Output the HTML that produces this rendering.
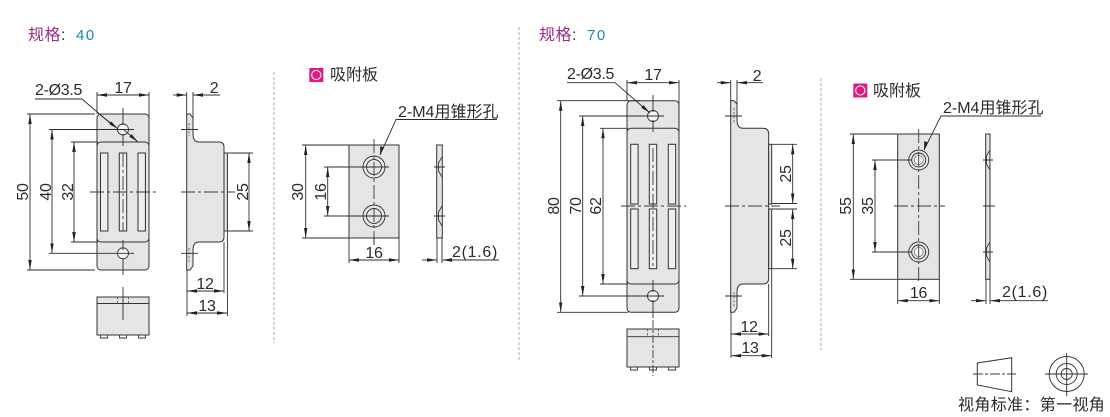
<!DOCTYPE html>
<html><head><meta charset="utf-8">
<style>
html,body{margin:0;padding:0;background:#fff;width:1110px;height:417px;overflow:hidden}
svg{display:block}
text{font-family:"Liberation Sans","Noto Sans CJK SC",sans-serif;fill:#2b2b2b;font-size:16px;letter-spacing:-.3px}
.p{fill:#e5e5e6;stroke:#333;stroke-width:1}
.n{fill:none;stroke:#333;stroke-width:.9}
.d{fill:none;stroke:#2e2e2e;stroke-width:.9}
.a{fill:none;stroke:#2e2e2e;stroke-width:.9;marker-start:url(#as);marker-end:url(#ae)}
.o{fill:none;stroke:#2e2e2e;stroke-width:.9;marker-end:url(#ae)}
.c{fill:none;stroke:#3a3a3a;stroke-width:.9;stroke-dasharray:14 3 3 3}
.h{fill:none;stroke:#444;stroke-width:.7;stroke-dasharray:2.5 1.5}
.v{fill:none;stroke:#999;stroke-width:.8;stroke-dasharray:3 2}
.m{text-anchor:middle}
</style></head>
<body>
<svg width="1110" height="417" viewBox="0 0 1110 417" xmlns="http://www.w3.org/2000/svg">
<defs>
<marker id="ae" markerUnits="userSpaceOnUse" markerWidth="12" markerHeight="6" refX="10" refY="2" orient="auto"><path d="M0 0.3L10 2L0 3.7Z" fill="#222"/></marker>
<marker id="as" markerUnits="userSpaceOnUse" markerWidth="12" markerHeight="6" refX="0" refY="2" orient="auto"><path d="M10 0.3L0 2L10 3.7Z" fill="#222"/></marker>
</defs>

<!-- titles -->
<text x="28" y="40" style="font-size:16px;fill:#9b2a86;letter-spacing:.5px">规格<tspan style="fill:#333">:</tspan><tspan x="76" style="fill:#1a86b8;letter-spacing:1.5px;font-size:15px">40</tspan></text>
<text x="539" y="40" style="font-size:16px;fill:#9b2a86;letter-spacing:.5px">规格<tspan style="fill:#333">:</tspan><tspan x="587" style="fill:#1a86b8;letter-spacing:1.5px;font-size:15px">70</tspan></text>

<!-- dividers -->
<path class="v" d="M274 72V343M519 27V362M821 78V350"/>

<!-- LEFT front -->
<rect class="p" x="97" y="114" width="52" height="156" rx="4"/>
<rect class="p" x="97" y="142" width="52" height="100" rx="4"/>
<g class="p" style="fill:#eee">
<rect x="100.5" y="153" width="7.4" height="78"/><rect x="119.3" y="153" width="7.4" height="78"/><rect x="138" y="153" width="7.4" height="78"/>
</g>
<circle cx="123" cy="129.5" r="5.5" fill="#f4f4f4" stroke="#333" stroke-width=".9"/>
<circle cx="123" cy="253.3" r="5.5" fill="#f4f4f4" stroke="#333" stroke-width=".9"/>
<path class="d" d="M123 108V125M123 134V146M123 240V250M123 258V275M107 129.5H134M107 253.3H134"/>
<path class="c" d="M123 153V231M90 192H156"/>
<!-- LEFT front dims -->
<path class="d" d="M97 92V114M149 92V142M27 114H95M49 129.5H107M71 142H98M71 242H98M49 253.3H107M27 270H95"/>
<path class="a" d="M97 95H149"/>
<path class="a" d="M30 114V270"/>
<path class="a" d="M52 129.5V253.3"/>
<path class="a" d="M74 142V242"/>
<path class="d" d="M35 99H82L110 123"/>
<path class="o" d="M98 113L118 129"/>
<path class="o" d="M123 129L138 142"/>
<text x="35" y="95">2-Ø3.5</text>
<text class="m" x="123" y="93">17</text>
<text class="m" transform="translate(28,192) rotate(-90)">50</text>
<text class="m" transform="translate(51,192) rotate(-90)">40</text>
<text class="m" transform="translate(73,192) rotate(-90)">32</text>

<!-- LEFT side -->
<path class="p" d="M186.7 114H190L193 118V134Q193 142 199 142H219Q224 142 224 147V237Q224 242 219 242H199Q193 242 193 250V266L190 270H186.7Z"/>
<rect class="p" x="224" y="153" width="3.4" height="78"/>
<path class="c" d="M181 192H235"/>
<path class="h" d="M189 123V136M189 248V262"/>
<path class="d" d="M181 129.5H198M181 253.3H198"/>
<path class="d" d="M186.7 92V114M193 92V118M228 153H253M228 231H253M224 242V293M227.4 231V316M187 270V316"/>
<path class="o" d="M173 95H186.7"/>
<path class="o" d="M220 95H193"/>
<text class="m" x="214" y="93">2</text>
<path class="a" d="M249 153V231"/>
<text class="m" transform="translate(248,192) rotate(-90)">25</text>
<path class="a" d="M187 291H224"/>
<text class="m" x="205" y="289">12</text>
<path class="a" d="M187 313H227"/>
<text class="m" x="207" y="311">13</text>

<!-- LEFT bottom -->
<rect class="p" x="97" y="297" width="52" height="38"/>
<path class="n" d="M97 303.5H149"/>
<path class="n" d="M100.5 335V338H107.5V335M119.5 335V338H126.5V335M138.5 335V338H145.5V335"/>
<path class="h" d="M117.5 297V303M128.5 297V303"/>
<path class="d" d="M123 287V320"/>

<!-- LEFT plate -->
<rect x="309.3" y="68" width="14" height="14" fill="#e5177f"/><circle cx="316.3" cy="75" r="4.6" fill="#e5177f" stroke="#fff" stroke-width="1"/>
<text x="330" y="80" style="font-size:16px;letter-spacing:0">吸附板</text>
<rect class="p" x="349" y="145" width="50" height="93"/>
<circle class="n" cx="374" cy="167" r="11"/><circle class="n" cx="374" cy="167" r="7.5" fill="#f0f0f0"/>
<circle class="n" cx="374" cy="216" r="11"/><circle class="n" cx="374" cy="216" r="7.5" fill="#f0f0f0"/>
<path class="c" d="M374 139V244"/>
<path class="d" d="M354 167H389M354 216H389"/>
<path class="d" d="M302 145H349M302 238H349M324 167H372M324 216H372M349 238V263M399 238V263M437 238V263M442 238V263M374 238V245"/>
<path class="a" d="M305.7 145V238"/>
<path class="a" d="M327.7 167V216"/>
<text class="m" transform="translate(303,192) rotate(-90)">30</text>
<text class="m" transform="translate(326,192) rotate(-90)">16</text>
<path class="a" d="M349 260H399"/>
<text class="m" x="374" y="258">16</text>
<path class="o" d="M422 260H437"/>
<path class="o" d="M499 260H442"/>
<text x="452" y="257" style="letter-spacing:.7px">2(1.6)</text>
<rect class="p" x="436.7" y="145" width="5.6" height="93"/>
<path class="n" d="M442 157L438.5 163V171L442 177M442 206L438.5 212V220L442 226"/>
<path class="d" d="M434 167H445M434 216H445"/>
<path class="d" d="M497 119.5H396L380 155"/>
<path d="M380 155L380.3 146L384 147.7Z" fill="#222"/>
<text x="398" y="117" style="letter-spacing:0">2-M4用锥形孔</text>

<!-- RIGHT front -->
<rect class="p" x="627" y="100.7" width="52" height="211.6" rx="4"/>
<rect class="p" x="627" y="128.3" width="52" height="155.7" rx="4"/>
<g class="p" style="fill:#eee">
<rect x="630.7" y="144.3" width="7.4" height="59.7"/><rect x="649.3" y="144.3" width="7.4" height="59.7"/><rect x="668.3" y="144.3" width="7.4" height="59.7"/>
<rect x="630.7" y="209" width="7.4" height="59.7"/><rect x="649.3" y="209" width="7.4" height="59.7"/><rect x="668.3" y="209" width="7.4" height="59.7"/>
</g>
<circle cx="653" cy="116" r="5.5" fill="#f4f4f4" stroke="#333" stroke-width=".9"/>
<circle cx="653" cy="296" r="5.5" fill="#f4f4f4" stroke="#333" stroke-width=".9"/>
<path class="d" d="M653 95V112M653 120V132M653 280V292M653 300V318M637 116H664M637 296H664"/>
<path class="c" d="M653 148V266M621 206H686"/>
<path class="d" d="M627 80V101M679 80V128M557 100.7H640M579 116H638M600 128.3H628M600 284H628M579 296H638M557 312.3H628"/>
<path class="a" d="M627 82.7H679"/>
<path class="a" d="M560.7 100.7V312.3"/>
<path class="a" d="M582.7 116V296"/>
<path class="a" d="M603 128.3V284"/>
<path class="d" d="M567 82.7H615"/>
<path class="o" d="M615 82.7L650 113"/>
<text x="567" y="79">2-Ø3.5</text>
<text class="m" x="653" y="80">17</text>
<text class="m" transform="translate(559,206) rotate(-90)">80</text>
<text class="m" transform="translate(581,206) rotate(-90)">70</text>
<text class="m" transform="translate(601,206) rotate(-90)">62</text>

<!-- RIGHT side -->
<path class="p" d="M730.7 100.7H734L737 104V120Q737 128.3 743 128.3H763Q768.7 128.3 768.7 134V278Q768.7 284 763 284H743Q737 284 737 292V308L734 312.3H730.7Z"/>
<rect class="p" x="768.7" y="144.3" width="3" height="59.7"/>
<rect class="p" x="768.7" y="209" width="3" height="59.7"/>
<path class="c" d="M725 206H780"/>
<path class="h" d="M734 108V124M734 292V308"/>
<path class="d" d="M725 116H742M725 296H742"/>
<path class="d" d="M730.7 80V101M737 80V104M772 144.3H797M772 203.5H797M772 209H797M772 268.7H797M768.7 284V336M771.7 269V358M731 312V358"/>
<path class="o" d="M717 82.7H730.7"/>
<path class="o" d="M763 82.7H737"/>
<text class="m" x="757" y="81">2</text>
<path class="a" d="M792.7 144.3V203.5"/>
<path class="a" d="M792.7 209V268.7"/>
<text class="m" transform="translate(791,174) rotate(-90)">25</text>
<text class="m" transform="translate(791,238) rotate(-90)">25</text>
<path class="a" d="M731 334H768.7"/>
<text class="m" x="749" y="332">12</text>
<path class="a" d="M731 355.7H771.7"/>
<text class="m" x="750" y="353">13</text>

<!-- RIGHT bottom -->
<rect class="p" x="627" y="329" width="52" height="38"/>
<path class="n" d="M627 336.7H679"/>
<path class="n" d="M630.5 367V370H637.5V367M649.5 367V370H656.5V367M668.5 367V370H675.5V367"/>
<path class="h" d="M647.5 329V336M658.5 329V336"/>
<path class="c" d="M653 320V376" style="stroke-dasharray:8 2 3 2"/>

<!-- RIGHT plate -->
<rect x="853.3" y="83.5" width="14" height="14" fill="#e5177f"/><circle cx="860.3" cy="90.5" r="4.6" fill="#e5177f" stroke="#fff" stroke-width="1"/>
<text x="873" y="96" style="font-size:16px;letter-spacing:0">吸附板</text>
<rect class="p" x="897.7" y="134" width="41.6" height="145.3"/>
<circle class="n" cx="918.7" cy="160" r="10"/><circle class="n" cx="918.7" cy="160" r="7"/><circle cx="918.7" cy="160" r="4.5" fill="#f7f7f7" stroke="#555" stroke-width=".6"/>
<circle class="n" cx="918.7" cy="252" r="10"/><circle class="n" cx="918.7" cy="252" r="7"/><circle cx="918.7" cy="252" r="4.5" fill="#f7f7f7" stroke="#555" stroke-width=".6"/>
<path class="c" d="M918.7 129V283M894 206H945"/>
<path class="d" d="M850 134H897M850 279.3H897M872 160H912M872 252H912M897.7 279V304M939.3 279V304M986 279V304M990 279V304"/>
<path class="a" d="M853.3 134V279.3"/>
<path class="a" d="M875 160V252"/>
<text class="m" transform="translate(851,206) rotate(-90)">55</text>
<text class="m" transform="translate(873,206) rotate(-90)">35</text>
<path class="a" d="M897.7 300.7H939.3"/>
<text class="m" x="918.5" y="298">16</text>
<path class="o" d="M971 300.7H986"/>
<path class="o" d="M1048 300.7H990"/>
<text x="1002" y="297" style="letter-spacing:.7px">2(1.6)</text>
<rect class="p" x="985.7" y="134" width="4.3" height="145.3"/>
<path class="n" d="M990 150L986.5 156V164L990 170M990 242L986.5 248V256L990 262"/>
<path class="d" d="M983 160H993M983 206H995M983 252H993"/>
<path class="d" d="M1041 116H941L924 150"/>
<path d="M924 150L924.3 141L928 142.7Z" fill="#222"/>
<text x="943" y="113" style="letter-spacing:0">2-M4用锥形孔</text>

<!-- view symbol -->
<path class="n" d="M977.3 363L1011.7 357.7V391.7L977.3 385Z" style="stroke-width:1"/>
<path class="c" d="M973 374H1016" style="stroke-dasharray:10 2 3 2"/>
<circle class="n" cx="1066.7" cy="374" r="17.5"/><circle class="n" cx="1066.7" cy="374" r="10.5"/><circle class="n" cx="1066.7" cy="374" r="5.5"/>
<path class="d" d="M1045 374H1088M1066.7 353V396"/>
<text x="958" y="410" style="font-size:16px;letter-spacing:.35px">视角标准：第一视角</text>
</svg>
</body></html>
